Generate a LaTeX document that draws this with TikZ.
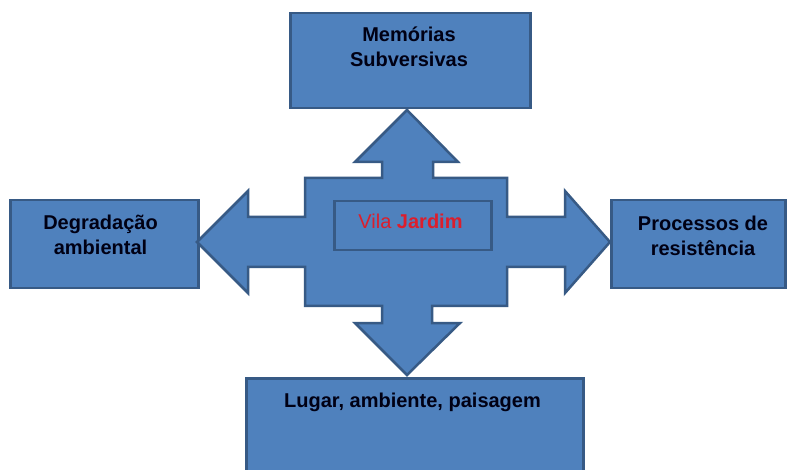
\documentclass[tikz,border=0pt]{standalone}
\usepackage{fontspec}
\setmainfont{Liberation Sans}
\definecolor{boxfill}{HTML}{4F81BD}
\definecolor{boxline}{HTML}{375A85}
\definecolor{vilared}{HTML}{DC1E2C}
\begin{document}
\begin{tikzpicture}[x=1pt,y=-1pt,
  bluefill/.style={fill=boxfill,draw=boxline,line width=2.5pt,line join=miter},
  box/.style={bluefill,rectangle,inner sep=0pt,anchor=north west},
  lbl/.style={anchor=base,inner sep=0pt,font=\fontsize{20}{25}\selectfont\bfseries,text=black!92!blue}
]
\clip (0,0) rectangle (787,470);
\fill[white] (0,0) rectangle (787,470);
% boxes
\node[box,minimum width=240pt,minimum height=95pt] (top) at (289,12) {};
\node[box,minimum width=188pt,minimum height=88pt] (left) at (9,199) {};
\node[box,minimum width=174pt,minimum height=88pt] (right) at (610,199) {};
\node[box,minimum width=337pt,minimum height=110pt] (bottom) at (245,377) {};
% cross with four arrows
\draw[bluefill] (407,110) -- (458,162) -- (433,162) -- (433,178) -- (507,178) -- (507,217)
  -- (565,217) -- (565,191) -- (610,242) -- (565,293) -- (565,267) -- (507,267)
  -- (507,306) -- (432,306) -- (432,323) -- (460,323) -- (407,375) -- (355,323)
  -- (382,323) -- (382,306) -- (305,306) -- (305,267) -- (248,267) -- (248,293)
  -- (197,242) -- (248,191) -- (248,217) -- (305,217) -- (305,178) -- (382,178)
  -- (382,162) -- (355,162) -- cycle;
\node[box,minimum width=157pt,minimum height=49pt] (center) at (333,200) {};
% labels
\node[lbl] (t1) at (409,42) {Memórias};
\node[lbl] (t2) at (409,67) {Subversivas};
\node[lbl] (l1) at (100.5,230) {Degradação};
\node[lbl] (l2) at (100.5,255) {ambiental};
\node[lbl] (r1) at (703,231) {Processos de};
\node[lbl] (r2) at (703,256) {resistência};
\node[lbl,text=vilared,font=\fontsize{20}{25}\selectfont] (c1) at (410.5,229) {Vila \textbf{Jardim}};
\node[lbl] (b1) at (412.5,407) {Lugar, ambiente, paisagem};
\end{tikzpicture}
\end{document}
